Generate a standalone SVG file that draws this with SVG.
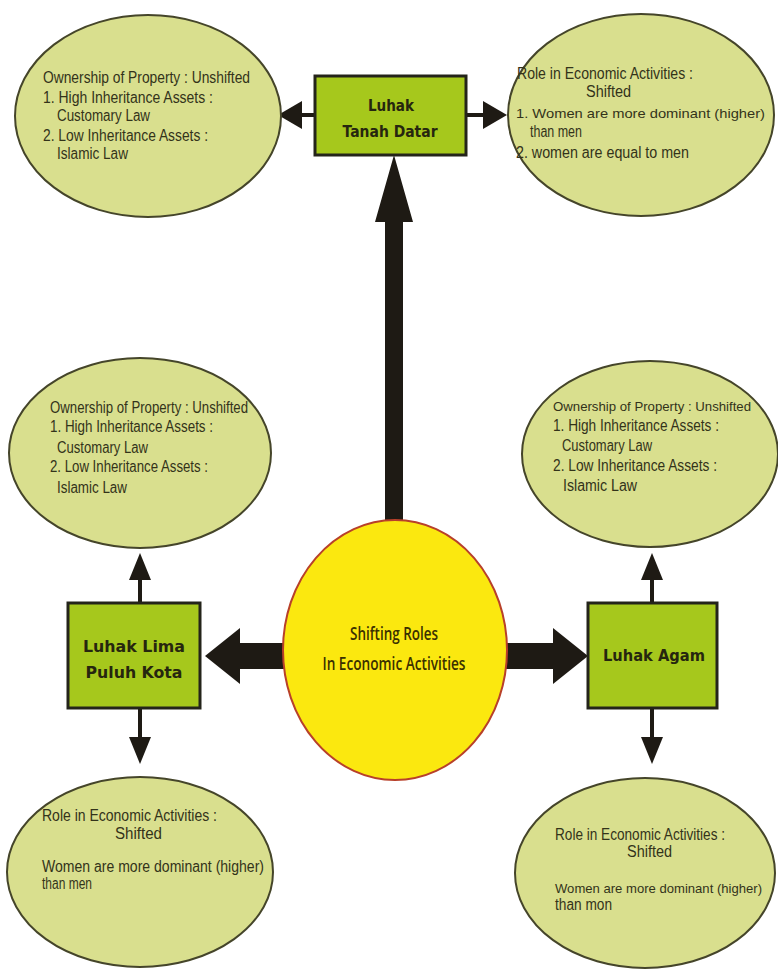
<svg xmlns="http://www.w3.org/2000/svg" width="778" height="976" viewBox="0 0 778 976">
<style>
.bg{fill:#ffffff}
.ell{fill:#d9df8e;stroke:#45452a;stroke-width:2}
.box{fill:#a6c81c;stroke:#24241a;stroke-width:3}
.hub{fill:#fbe80f;stroke:#b8402a;stroke-width:2}
.t{font-family:"Liberation Sans",Arial,sans-serif;font-size:16px;fill:#33331a}
.s{font-size:13.5px}
.b{font-family:"DejaVu Sans",Verdana,sans-serif;font-size:16px;font-weight:bold;fill:#26260f}
.c{font-family:"Open Sans","Liberation Sans",sans-serif;font-size:18px;font-weight:600;fill:#3a3000}
.ln{stroke:#1e1a14;stroke-width:4;fill:none}
.ah{fill:#1e1a14}
</style>
<rect class="bg" x="0" y="0" width="778" height="976"/>

<g id="connectors">
  <line class="ln" x1="302" y1="115" x2="316" y2="115"/>
  <polygon class="ah" points="278,115 302,101 302,129"/>
  <line class="ln" x1="465" y1="115" x2="484" y2="115"/>
  <polygon class="ah" points="507,115 483,101 483,129"/>
  <polygon class="ah" points="385,520 385,222 375,222 394,155 413,222 403,222 403,520"/>
  <polygon class="ah" points="284,643 240,643 240,628 205,656 240,684 240,669 284,669"/>
  <polygon class="ah" points="506,643 553,643 553,628 588,656 553,684 553,669 506,669"/>
  <line class="ln" x1="140" y1="603" x2="140" y2="577"/>
  <polygon class="ah" points="140,553 129,580 151,580"/>
  <line class="ln" x1="140" y1="708" x2="140" y2="739"/>
  <polygon class="ah" points="140,764 129,737 151,737"/>
  <line class="ln" x1="652" y1="603" x2="652" y2="577"/>
  <polygon class="ah" points="652,553 641,580 663,580"/>
  <line class="ln" x1="652" y1="708" x2="652" y2="739"/>
  <polygon class="ah" points="652,764 641,737 663,737"/>
</g>

<g id="center">
  <ellipse class="hub" cx="395" cy="650" rx="112" ry="130"/>
  <text class="c" x="394" y="640" text-anchor="middle" textLength="88" lengthAdjust="spacingAndGlyphs">Shifting Roles</text>
  <text class="c" x="394" y="670" text-anchor="middle" textLength="143" lengthAdjust="spacingAndGlyphs">In Economic Activities</text>
</g>

<g id="tanah-datar">
  <rect class="box" x="315" y="76" width="151" height="79"/>
  <text class="b" x="391" y="111" text-anchor="middle" textLength="46" lengthAdjust="spacingAndGlyphs">Luhak</text>
  <text class="b" x="390" y="137" text-anchor="middle" textLength="95" lengthAdjust="spacingAndGlyphs">Tanah Datar</text>
</g>

<g id="lima-puluh-kota">
  <rect class="box" x="68" y="603" width="132" height="105"/>
  <text class="b" x="134" y="652" text-anchor="middle" textLength="102" lengthAdjust="spacingAndGlyphs">Luhak Lima</text>
  <text class="b" x="134" y="678" text-anchor="middle" textLength="97" lengthAdjust="spacingAndGlyphs">Puluh Kota</text>
</g>

<g id="agam">
  <rect class="box" x="588" y="603" width="129" height="105"/>
  <text class="b" x="654" y="661" text-anchor="middle" textLength="102" lengthAdjust="spacingAndGlyphs">Luhak Agam</text>
</g>

<g id="td-ownership">
  <ellipse class="ell" cx="148" cy="116" rx="133" ry="101"/>
  <text class="t" x="43" y="83" textLength="207" lengthAdjust="spacingAndGlyphs">Ownership of Property : Unshifted</text>
  <text class="t" x="43" y="103" textLength="170" lengthAdjust="spacingAndGlyphs">1. High Inheritance Assets  :</text>
  <text class="t" x="57" y="121" textLength="93" lengthAdjust="spacingAndGlyphs">Customary Law</text>
  <text class="t" x="43" y="141" textLength="165" lengthAdjust="spacingAndGlyphs">2. Low Inheritance Assets  :</text>
  <text class="t" x="57" y="159" textLength="71" lengthAdjust="spacingAndGlyphs">Islamic Law</text>
</g>

<g id="td-role">
  <ellipse class="ell" cx="641" cy="115" rx="133" ry="101"/>
  <text class="t" x="517" y="79" textLength="176" lengthAdjust="spacingAndGlyphs">Role in Economic Activities :</text>
  <text class="t" x="586" y="97" textLength="45" lengthAdjust="spacingAndGlyphs">Shifted</text>
  <text class="t s" x="516" y="118" textLength="249" lengthAdjust="spacingAndGlyphs">1. Women are more dominant (higher)</text>
  <text class="t" x="530" y="137" textLength="52" lengthAdjust="spacingAndGlyphs">than men</text>
  <text class="t" x="516" y="158" textLength="173" lengthAdjust="spacingAndGlyphs">2. women are equal to men</text>
</g>

<g id="lpk-ownership">
  <ellipse class="ell" cx="140" cy="453" rx="131" ry="95"/>
  <text class="t" x="50" y="413" textLength="198" lengthAdjust="spacingAndGlyphs">Ownership of Property : Unshifted</text>
  <text class="t" x="50" y="432" textLength="163" lengthAdjust="spacingAndGlyphs">1. High Inheritance Assets  :</text>
  <text class="t" x="57" y="453" textLength="91" lengthAdjust="spacingAndGlyphs">Customary Law</text>
  <text class="t" x="50" y="472" textLength="158" lengthAdjust="spacingAndGlyphs">2. Low Inheritance Assets  :</text>
  <text class="t" x="57" y="493" textLength="70" lengthAdjust="spacingAndGlyphs">Islamic Law</text>
</g>

<g id="agam-ownership">
  <ellipse class="ell" cx="650" cy="454" rx="128" ry="93"/>
  <text class="t s" x="553" y="411" textLength="198" lengthAdjust="spacingAndGlyphs">Ownership of Property : Unshifted</text>
  <text class="t" x="553" y="431" textLength="166" lengthAdjust="spacingAndGlyphs">1. High Inheritance Assets  :</text>
  <text class="t" x="562" y="451" textLength="90" lengthAdjust="spacingAndGlyphs">Customary Law</text>
  <text class="t" x="553" y="471" textLength="164" lengthAdjust="spacingAndGlyphs">2. Low Inheritance Assets  :</text>
  <text class="t" x="563" y="491" textLength="74" lengthAdjust="spacingAndGlyphs">Islamic Law</text>
</g>

<g id="lpk-role">
  <ellipse class="ell" cx="140" cy="872" rx="133" ry="95"/>
  <text class="t" x="42" y="821" textLength="175" lengthAdjust="spacingAndGlyphs">Role in Economic Activities :</text>
  <text class="t" x="115" y="839" textLength="47" lengthAdjust="spacingAndGlyphs">Shifted</text>
  <text class="t" x="42" y="872" textLength="222" lengthAdjust="spacingAndGlyphs">Women are more dominant (higher)</text>
  <text class="t" x="42" y="889" textLength="50" lengthAdjust="spacingAndGlyphs">than men</text>
</g>

<g id="agam-role">
  <ellipse class="ell" cx="645" cy="873" rx="130" ry="95"/>
  <text class="t" x="555" y="840" textLength="170" lengthAdjust="spacingAndGlyphs">Role in Economic Activities :</text>
  <text class="t" x="627" y="857" textLength="45" lengthAdjust="spacingAndGlyphs">Shifted</text>
  <text class="t s" x="555" y="893" textLength="207" lengthAdjust="spacingAndGlyphs">Women are more dominant (higher)</text>
  <text class="t" x="555" y="910" textLength="57" lengthAdjust="spacingAndGlyphs">than mon</text>
</g>
</svg>
